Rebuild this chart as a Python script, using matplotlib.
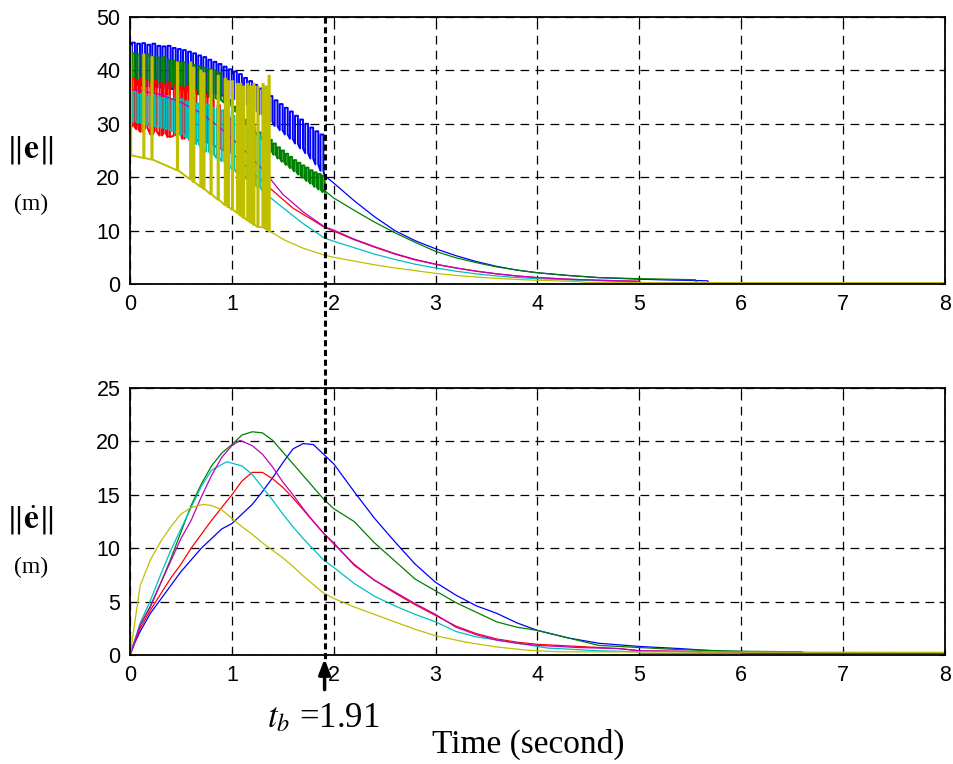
import numpy as np
import matplotlib
matplotlib.use("Agg")
import matplotlib.pyplot as plt
from matplotlib.transforms import blended_transform_factory
from matplotlib.lines import Line2D

plt.rcParams["font.family"] = "Liberation Sans"
plt.rcParams["mathtext.fontset"] = "stix"

t_b = 1.91
colors = {"b": (0, 0, 1), "g": (0, 0.5, 0), "r": (1, 0, 0),
          "c": (0, 0.75, 0.75), "m": (0.75, 0, 0.75), "y": (0.75, 0.75, 0)}

# ---- top plot: ||e||, chattering part (spike time, spike top, base) ----
blue_sp_t = [0.02, 0.07, 0.12, 0.17, 0.22, 0.27, 0.32, 0.37, 0.42, 0.47, 0.52, 0.57, 0.62,
             0.67, 0.72, 0.77, 0.82, 0.87, 0.92, 0.97, 1.02, 1.07, 1.12, 1.17, 1.22, 1.27,
             1.32, 1.37, 1.42, 1.47, 1.52, 1.57, 1.62, 1.67, 1.72, 1.77, 1.82, 1.87]
blue_sp_hi = [45.2, 45.0, 45.1, 44.8, 45.0, 44.6, 44.5, 44.6, 44.2, 44.0, 43.8, 43.5, 43.2,
              42.8, 42.5, 42.0, 41.6, 41.2, 40.7, 40.2, 39.8, 39.3, 38.6, 38.0, 37.3, 36.6,
              35.8, 35.2, 34.4, 33.7, 33.0, 32.3, 31.5, 30.8, 30.0, 29.3, 28.6, 28.0]
blue_sp_lo = [37.5, 37.3, 37.2, 37.0, 37.0, 36.8, 36.7, 36.6, 36.5, 36.4, 36.3, 36.2, 36.0,
              35.9, 35.8, 35.7, 35.6, 35.4, 35.2, 35.0, 34.6, 34.2, 33.6, 33.0, 32.4, 31.8,
              31.1, 30.4, 29.6, 28.8, 28.0, 27.2, 26.3, 25.4, 24.5, 23.5, 22.4, 21.2]
blue_tail_t = [1.91, 2.0, 2.2, 2.4, 2.6, 2.8, 3.0, 3.2, 3.4, 3.6, 3.8, 4.0, 4.3, 4.6, 5.0,
               5.3, 5.67, 5.68, 8.0]
blue_tail_v = [20.3, 18.9, 15.6, 12.6, 10.0, 8.1, 6.6, 5.3, 4.2, 3.3, 2.6, 2.1, 1.6, 1.2,
               0.9, 0.75, 0.6, 0.25, 0.25]

green_sp_t = [0.02, 0.07, 0.12, 0.17, 0.22, 0.27, 0.32, 0.37, 0.42, 0.47, 0.52, 0.57, 0.62,
              0.67, 0.72, 0.77, 0.82, 0.87, 0.92, 0.97, 1.02, 1.08, 1.14, 1.2, 1.26, 1.32,
              1.37, 1.41, 1.45, 1.49, 1.53, 1.57, 1.61, 1.65, 1.69, 1.73, 1.77, 1.81, 1.85, 1.89]
green_sp_hi = [43.2, 43.0, 42.8, 43.0, 42.6, 42.4, 42.5, 42.0, 41.8, 41.6, 41.5, 41.2, 41.0,
               40.8, 40.5, 40.2, 40.0, 39.5, 38.5, 34.5, 33.2, 32.0, 30.8, 29.6, 28.4, 27.4,
               27.0, 26.3, 25.6, 25.0, 24.4, 23.8, 23.2, 22.7, 22.2, 21.8, 21.3, 20.9, 20.6, 20.3]
green_sp_lo = [38.5, 38.4, 38.2, 38.0, 37.8, 37.6, 37.4, 37.0, 36.8, 36.5, 36.2, 36.0, 35.8,
               35.5, 35.2, 35.0, 34.8, 34.5, 34.0, 33.5, 32.3, 31.1, 29.9, 28.7, 27.6, 26.5,
               24.8, 24.2, 23.5, 22.9, 22.3, 21.7, 21.1, 20.5, 19.9, 19.3, 18.8, 18.2, 17.7, 17.2]
green_tail_t = [1.91, 2.0, 2.2, 2.4, 2.6, 2.8, 3.0, 3.2, 3.4, 3.6, 3.8, 4.0, 4.3, 4.6, 5.0,
                5.55, 5.56, 8.0]
green_tail_v = [17.5, 16.1, 13.8, 11.6, 9.6, 7.8, 6.1, 4.9, 4.0, 3.2, 2.6, 2.1, 1.6, 1.2,
                1.0, 0.8, 0.25, 0.25]

red_sp_t = [0.02, 0.06, 0.10, 0.15, 0.20, 0.24, 0.29, 0.33, 0.37, 0.43, 0.48, 0.51, 0.55,
            0.58, 0.63, 0.69, 0.74, 0.80, 0.86, 0.92, 0.98]
red_sp_hi = [38.5, 38.2, 38.6, 38.0, 37.8, 38.2, 37.6, 37.5, 37.8, 37.2, 37.0, 36.8, 37.0,
             36.5, 36.2, 36.0, 35.5, 34.5, 33.5, 32.5, 31.0]
red_sp_lo = [29.5, 29.0, 28.5, 29.2, 28.0, 28.6, 27.8, 28.2, 27.5, 27.8, 28.0, 27.2, 27.5,
             27.0, 26.8, 27.0, 26.5, 26.0, 25.5, 25.0, 24.6]
red_tail_t = [1.0, 1.2, 1.4, 1.6, 1.8, 1.91, 2.0, 2.2, 2.4, 2.6, 2.8, 3.0, 3.2, 3.4, 3.6,
              3.8, 4.0, 4.3, 4.6, 5.0, 5.01, 8.0]
red_tail_v = [24.5, 21.0, 17.5, 14.2, 11.9, 10.6, 9.9, 8.3, 6.9, 5.6, 4.5, 3.7, 3.0, 2.4,
              1.9, 1.5, 1.2, 0.9, 0.7, 0.5, 0.25, 0.25]

cyan_sp_t = [0.03, 0.08, 0.12, 0.17, 0.22, 0.27, 0.31, 0.36, 0.41, 0.46, 0.50, 0.55, 0.60,
             0.65, 0.70, 0.75, 0.80, 0.85, 0.90, 0.95, 1.00, 1.05, 1.10, 1.15, 1.20, 1.25, 1.30]
cyan_sp_hi = [36.0, 35.5, 35.8, 35.2, 35.5, 35.0, 34.8, 35.2, 34.6, 34.5, 34.6, 34.2, 34.0,
              33.8, 33.5, 33.6, 33.0, 32.8, 32.5, 32.2, 31.5, 30.8, 30.5, 29.5, 29.0, 28.0, 27.0]
cyan_sp_lo = [30.5, 30.2, 30.0, 29.8, 29.6, 29.5, 29.2, 29.0, 28.6, 28.2, 28.0, 27.4, 26.8,
              26.2, 25.5, 24.8, 24.2, 23.6, 23.0, 22.2, 21.5, 20.8, 20.2, 19.5, 18.8, 18.2, 17.5]
cyan_tail_t = [1.35, 1.5, 1.7, 1.91, 2.0, 2.2, 2.4, 2.6, 2.8, 3.0, 3.2, 3.4, 3.6, 3.8, 4.0,
               4.4, 4.85, 4.86, 8.0]
cyan_tail_v = [16.6, 14.3, 11.3, 8.6, 8.0, 6.8, 5.6, 4.6, 3.7, 3.0, 2.4, 1.9, 1.5, 1.2, 1.0,
               0.7, 0.5, 0.25, 0.25]

mag_t = [0, 0.3, 0.5, 0.7, 0.9, 1.1, 1.3, 1.5, 1.7, 1.91, 2.0, 2.2, 2.4, 2.6, 2.8, 3.0, 3.2,
         3.4, 3.6, 3.8, 4.0, 4.3, 4.6, 5.0, 5.01, 8.0]
mag_v = [36.5, 35.5, 34.0, 32.0, 29.0, 25.5, 21.5, 16.8, 13.5, 10.7, 10.1, 8.4, 7.0, 5.7, 4.6,
         3.7, 3.0, 2.4, 1.9, 1.5, 1.2, 0.9, 0.7, 0.5, 0.25, 0.25]

yel_sp_t = [0.0, 0.13, 0.21, 0.46, 0.59, 0.62, 0.69, 0.72, 0.79, 0.86, 0.93, 0.96, 1.0, 1.05,
            1.08, 1.11, 1.15, 1.18, 1.21, 1.25, 1.30, 1.33, 1.36]
yel_sp_hi = [44.5, 43.0, 42.5, 41.5, 41.5, 40.5, 40.0, 39.5, 40.0, 39.0, 38.5, 38.0, 38.0,
             37.5, 37.5, 37.0, 37.5, 37.0, 37.5, 37.0, 37.5, 37.0, 39.0]
yel_sp_lo = [24.1, 23.6, 23.3, 21.3, 19.6, 19.1, 18.2, 17.8, 16.8, 15.8, 14.8, 14.4, 13.9,
             13.3, 12.8, 12.4, 11.9, 11.5, 11.1, 10.7, 10.6, 10.3, 10.0]
yel_tail_t = [1.37, 1.52, 1.7, 1.91, 2.0, 2.2, 2.4, 2.6, 2.8, 3.0, 3.2, 3.4, 3.6, 3.8, 4.0,
              4.4, 4.5, 8.0]
yel_tail_v = [9.9, 8.2, 6.7, 5.4, 5.0, 4.3, 3.6, 3.0, 2.5, 2.0, 1.6, 1.3, 1.05, 0.85, 0.7,
              0.45, 0.25, 0.25]

# ---- bottom plot: ||e_dot|| ----
b2_t = [0, 0.05, 0.1, 0.2, 0.3, 0.4, 0.5, 0.6, 0.7, 0.8, 0.9, 1.0, 1.1, 1.2, 1.3, 1.4, 1.5,
        1.6, 1.7, 1.8, 1.9, 2.0, 2.2, 2.4, 2.6, 2.8, 3.0, 3.2, 3.4, 3.6, 3.8, 4.0, 4.3, 4.6,
        5.0, 5.4, 5.8, 6.2, 6.6, 6.61, 8.0]
b2_v = [0, 1.2, 2.2, 3.9, 5.2, 6.5, 7.8, 8.9, 10.0, 10.9, 11.8, 12.3, 13.2, 14.1, 15.3, 16.6,
        18.0, 19.3, 19.8, 19.7, 18.8, 17.9, 15.3, 12.8, 10.6, 8.5, 6.8, 5.6, 4.6, 3.9, 3.0,
        2.3, 1.6, 1.1, 0.8, 0.6, 0.35, 0.3, 0.25, 0.15, 0.15]
g2_t = [0, 0.1, 0.2, 0.3, 0.4, 0.5, 0.6, 0.7, 0.8, 0.9, 1.0, 1.1, 1.2, 1.3, 1.4, 1.5, 1.6,
        1.7, 1.8, 1.9, 2.0, 2.2, 2.4, 2.6, 2.8, 3.0, 3.2, 3.4, 3.6, 3.8, 4.0, 4.3, 4.6, 5.0,
        5.4, 6.0, 6.6, 6.61, 8.0]
g2_v = [0, 2.8, 4.6, 6.7, 9.0, 11.5, 14.0, 16.0, 17.7, 18.9, 19.7, 20.6, 20.9, 20.8, 20.1,
        19.0, 17.9, 16.8, 15.7, 14.6, 13.7, 12.5, 10.5, 8.8, 7.1, 6.0, 4.9, 4.0, 3.1, 2.6,
        2.3, 1.6, 0.9, 0.7, 0.5, 0.35, 0.3, 0.15, 0.15]
r2_t = [0, 0.1, 0.2, 0.3, 0.4, 0.5, 0.6, 0.7, 0.8, 0.9, 1.0, 1.1, 1.2, 1.3, 1.4, 1.5, 1.6,
        1.7, 1.8, 1.9, 2.0, 2.2, 2.4, 2.6, 2.8, 3.0, 3.2, 3.4, 3.6, 3.8, 4.0, 4.4, 4.8, 5.0,
        5.6, 5.61, 8.0]
r2_v = [0, 2.5, 4.2, 5.7, 7.2, 8.5, 10.0, 11.3, 12.6, 13.8, 15.0, 16.3, 17.1, 17.1, 16.5,
        15.7, 14.7, 13.6, 12.5, 11.4, 10.4, 8.5, 7.0, 5.8, 4.7, 3.7, 2.7, 2.0, 1.5, 1.2, 1.0,
        0.8, 0.6, 0.4, 0.3, 0.15, 0.15]
c2_t = [0, 0.1, 0.2, 0.3, 0.4, 0.5, 0.6, 0.7, 0.8, 0.95, 1.1, 1.2, 1.3, 1.4, 1.5, 1.6, 1.7,
        1.8, 1.9, 2.0, 2.2, 2.4, 2.6, 2.8, 3.0, 3.2, 3.4, 3.6, 3.8, 4.1, 4.6, 5.0, 5.01, 8.0]
c2_v = [0, 3.0, 5.1, 7.5, 9.8, 11.8, 13.8, 15.8, 17.3, 18.1, 17.7, 16.9, 15.7, 14.5, 13.2,
        12.0, 10.9, 9.9, 8.9, 8.2, 6.7, 5.5, 4.6, 3.8, 3.1, 2.2, 1.7, 1.4, 1.1, 0.65, 0.4,
        0.3, 0.15, 0.15]
m2_t = [0, 0.1, 0.2, 0.3, 0.4, 0.5, 0.6, 0.7, 0.8, 0.9, 1.0, 1.08, 1.2, 1.3, 1.4, 1.5, 1.6,
        1.7, 1.8, 1.9, 2.0, 2.2, 2.4, 2.6, 2.8, 3.0, 3.2, 3.4, 3.6, 3.8, 4.0, 4.4, 4.8, 5.0,
        6.0, 6.01, 8.0]
m2_v = [0, 2.8, 4.5, 6.7, 8.8, 10.9, 12.6, 14.8, 16.8, 18.5, 19.6, 20.1, 19.6, 18.8, 17.6,
        16.2, 15.0, 13.7, 12.5, 11.4, 10.5, 8.4, 7.0, 5.9, 4.8, 3.8, 2.6, 1.9, 1.4, 1.1, 0.9,
        0.7, 0.6, 0.4, 0.25, 0.15, 0.15]
y2_t = [0, 0.1, 0.2, 0.3, 0.4, 0.5, 0.6, 0.72, 0.8, 0.9, 1.0, 1.1, 1.2, 1.3, 1.4, 1.5, 1.6,
        1.7, 1.8, 1.9, 2.0, 2.2, 2.4, 2.6, 2.8, 3.0, 3.3, 3.6, 3.9, 4.2, 8.0]
y2_v = [0, 6.5, 8.9, 10.6, 12.0, 13.2, 13.8, 14.1, 14.0, 13.6, 12.8, 12.0, 11.3, 10.5, 9.8,
        9.1, 8.3, 7.4, 6.6, 5.8, 5.3, 4.5, 3.8, 3.1, 2.4, 1.8, 1.2, 0.75, 0.45, 0.3, 0.25]

x_ticks = [0, 1, 2, 3, 4, 5, 6, 7, 8]


def chatter(ts, hi, lo, w):
    # polyline of switching pulses: jump up to hi, hold for w, fall back to lo
    xs, ys = [0.0], [lo[0]]
    for t, h, l in zip(ts, hi, lo):
        xs += [t, t, t + w, t + w]
        ys += [l, h, h, l]
    return xs, ys


fig = plt.figure(figsize=(9.54, 7.64), dpi=100)
ax1 = fig.add_axes([130 / 954, 1 - 284 / 764, 815 / 954, 267 / 764])
ax2 = fig.add_axes([130 / 954, 1 - 655 / 764, 815 / 954, 267 / 764])

lw = 0.9
top_series = [
    ("b", blue_sp_t, blue_sp_hi, blue_sp_lo, 0.028, blue_tail_t, blue_tail_v),
    ("g", green_sp_t, green_sp_hi, green_sp_lo, 0.022, green_tail_t, green_tail_v),
    ("r", red_sp_t, red_sp_hi, red_sp_lo, 0.022, red_tail_t, red_tail_v),
    ("c", cyan_sp_t, cyan_sp_hi, cyan_sp_lo, 0.025, cyan_tail_t, cyan_tail_v),
]
for key, st, sh, sl, w, tt, tv in top_series:
    xs, ys = chatter(st, sh, sl, w)
    ax1.plot(xs + tt[:1], ys + tv[:1], color=colors[key], lw=1.4)
    ax1.plot(tt, tv, color=colors[key], lw=lw)
ax1.plot(mag_t, mag_v, color=colors["m"], lw=lw)
xs, ys = chatter(yel_sp_t, yel_sp_hi, yel_sp_lo, 0.012)
ax1.plot(xs + yel_tail_t[:1], ys + yel_tail_v[:1], color=colors["y"], lw=1.4)
ax1.plot(yel_tail_t, yel_tail_v, color=colors["y"], lw=lw)

for key, tt, vv in [("b", b2_t, b2_v), ("g", g2_t, g2_v), ("r", r2_t, r2_v),
                    ("c", c2_t, c2_v), ("m", m2_t, m2_v), ("y", y2_t, y2_v)]:
    ax2.plot(tt, vv, color=colors[key], lw=lw)

for ax, ymax, ystep in [(ax1, 50, 10), (ax2, 25, 5)]:
    ax.set_xlim(0, 8)
    ax.set_ylim(0, ymax)
    ax.set_xticks(x_ticks)
    ax.set_yticks(np.arange(0, ymax + 1, ystep))
    ax.grid(True, color="black", linestyle=(0, (7, 5)), linewidth=0.9)
    ax.tick_params(direction="in", length=4, top=True, right=True, labelsize=15.5, pad=7)
    for s in ax.spines.values():
        s.set_linewidth(1.3)

# vertical switching-time marker spanning both axes
trans = blended_transform_factory(ax2.transData, fig.transFigure)
fig.add_artist(Line2D([t_b, t_b], [1 - 17 / 764, 1 - 660 / 764], transform=trans,
                      color="black", lw=2.2, linestyle=(0, (2, 1.2))))
ax2.annotate("", xy=(t_b, -0.1), xytext=(t_b, -3.5), annotation_clip=False,
             arrowprops=dict(arrowstyle="-|>,head_width=0.35,head_length=0.9",
                             color="black", lw=2.5))

fig.text(267 / 954, 1 - 727 / 764, r"$t_b$ =1.91", fontsize=25,
         family="Liberation Serif", ha="left", va="baseline")
fig.text(432 / 954, 1 - 753 / 764, "Time (second)", fontsize=24,
         family="Liberation Serif", ha="left", va="baseline")

fig.text(30 / 954, 1 - 150 / 764, r"$\|\mathbf{e}\|$", fontsize=24, ha="center", va="center")
fig.text(31 / 954, 1 - 204 / 764, "(m)", fontsize=17, family="Liberation Serif",
         ha="center", va="center")
fig.text(30 / 954, 1 - 520 / 764, r"$\|\dot{\mathbf{e}}\|$", fontsize=24, ha="center",
         va="center")
fig.text(31 / 954, 1 - 567 / 764, "(m)", fontsize=17, family="Liberation Serif",
         ha="center", va="center")

fig.savefig("out.png", dpi=100)
